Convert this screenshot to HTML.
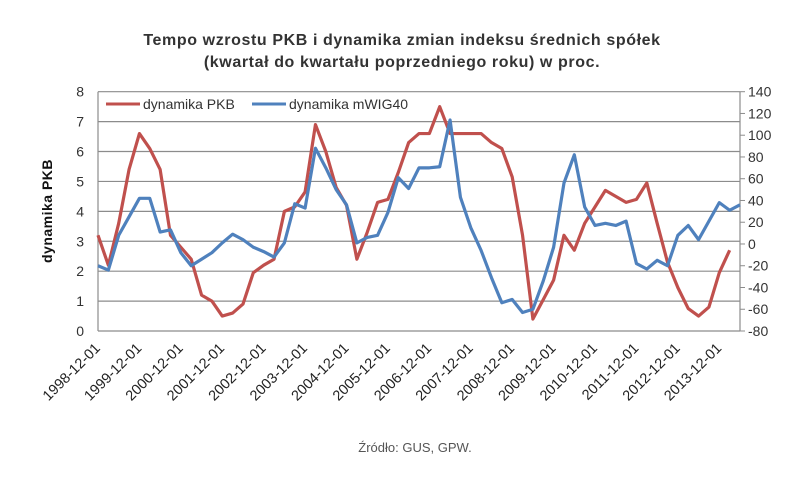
<!DOCTYPE html>
<html><head><meta charset="utf-8"><style>
body{margin:0;background:#fff;}
svg text{font-family:"Liberation Sans",sans-serif;}
</style></head><body>
<svg id="chart" width="805" height="494" xmlns="http://www.w3.org/2000/svg">
<text x="402" y="45" text-anchor="middle" font-size="16" font-weight="bold" letter-spacing="0.6" fill="#333">Tempo wzrostu PKB i dynamika zmian indeksu średnich spółek</text>
<text x="402" y="67" text-anchor="middle" font-size="16" font-weight="bold" letter-spacing="0.6" fill="#333">(kwartał do kwartału poprzedniego roku) w proc.</text>
<text transform="translate(52,211) rotate(-90)" text-anchor="middle" font-size="14" font-weight="bold" letter-spacing="0.5" fill="#111">dynamika PKB</text>
<text x="415" y="452" text-anchor="middle" font-size="13" fill="#555">Źródło: GUS, GPW.</text>
<g id="grid"></g><g id="axes"></g><g id="series"></g>
<g>
<line x1="106" y1="104" x2="140" y2="104" stroke="#C0504D" stroke-width="3"/>
<text x="143" y="109" font-size="14" fill="#333">dynamika PKB</text>
<line x1="252" y1="104" x2="286" y2="104" stroke="#4F81BD" stroke-width="3"/>
<text x="289" y="109" font-size="14" fill="#333">dynamika mWIG40</text>
</g>
</svg>
<script>
const pkb=[3.2,2.2,3.6,5.4,6.6,6.1,5.4,3.2,2.8,2.4,1.2,1.0,0.5,0.6,0.9,1.95,2.2,2.4,4.0,4.15,4.65,6.9,6.0,4.8,4.2,2.4,3.3,4.3,4.4,5.3,6.3,6.6,6.6,7.5,6.6,6.6,6.6,6.6,6.3,6.1,5.15,3.2,0.4,1.05,1.7,3.2,2.7,3.6,4.15,4.7,4.5,4.3,4.4,4.95,3.6,2.3,1.45,0.75,0.5,0.8,1.95,2.7];
const mwig=[-20,-24,8,25,42,42,11,13,-8,-20,-14,-8,1,9,4,-3,-7,-12,1,37,33,88,70,50,36,1,6,8,29,61,51,70,70,71,114,43,15,-6,-31,-54,-51,-63,-60,-34,-3,56,82,34,17,19,17,21,-18,-23,-15,-20,8,17,4,21,38,31,36];
const leftTicks=[0,1,2,3,4,5,6,7,8];
const rightTicks=[-80,-60,-40,-20,0,20,40,60,80,100,120,140];
const xLabels=["1998-12-01","1999-12-01","2000-12-01","2001-12-01","2002-12-01","2003-12-01","2004-12-01","2005-12-01","2006-12-01","2007-12-01","2008-12-01","2009-12-01","2010-12-01","2011-12-01","2012-12-01","2013-12-01"];
const X0=98,X1=740,YT=91.7,YB=331,N=63;
const xs=i=>X0+i*(X1-X0)/(N-1);
const yL=v=>YB-(v/8)*(YB-YT);
const yR=v=>YB-((v+80)/220)*(YB-YT);
const NS="http://www.w3.org/2000/svg";
function mk(tag,attrs,parent){const e=document.createElementNS(NS,tag);for(const k in attrs)e.setAttribute(k,attrs[k]);parent.appendChild(e);return e;}
const grid=document.getElementById('grid'),axes=document.getElementById('axes'),ser=document.getElementById('series');
leftTicks.forEach(t=>{
 const l=mk('line',{x1:X0,x2:X1,y1:yL(t),y2:yL(t),stroke:'#8c8c8c','stroke-width':1.2},grid);
 
 
 const tx=mk('text',{x:84,y:yL(t)+5,'text-anchor':'end','font-size':14,fill:'#333'},axes);
 tx.textContent=t;
 
 
});
mk('line',{x1:X0,x2:X0,y1:YT,y2:YB,stroke:'#8c8c8c','stroke-width':1.2},axes);
mk('line',{x1:X1,x2:X1,y1:YT,y2:YB,stroke:'#8c8c8c','stroke-width':1.2},axes);
rightTicks.forEach(t=>{
 mk('line',{x1:X1,x2:X1+5,y1:yR(t),y2:yR(t),stroke:'#8c8c8c'},axes);
 const tx=mk('text',{x:748,y:yR(t)+5,'font-size':14,fill:'#333'},axes);
 tx.textContent=t;
 
 
});
xLabels.forEach((s,k)=>{
 const x=xs(k*4)+3,y=349;
 const tx=mk('text',{x:x,y:y,'text-anchor':'end','font-size':14.5,fill:'#222',transform:`rotate(-45 ${x} ${y})`},axes);
 tx.textContent=s;
 
 
});
const p1=mk('polyline',{points:pkb.map((v,i)=>xs(i)+','+yL(v)).join(' '),fill:'none',stroke:'#C0504D','stroke-width':3.2,'stroke-linejoin':'round'},ser);


const p2=mk('polyline',{points:mwig.map((v,i)=>xs(i)+','+yR(v)).join(' '),fill:'none',stroke:'#4F81BD','stroke-width':3.2,'stroke-linejoin':'round'},ser);


</script>
</body></html>
